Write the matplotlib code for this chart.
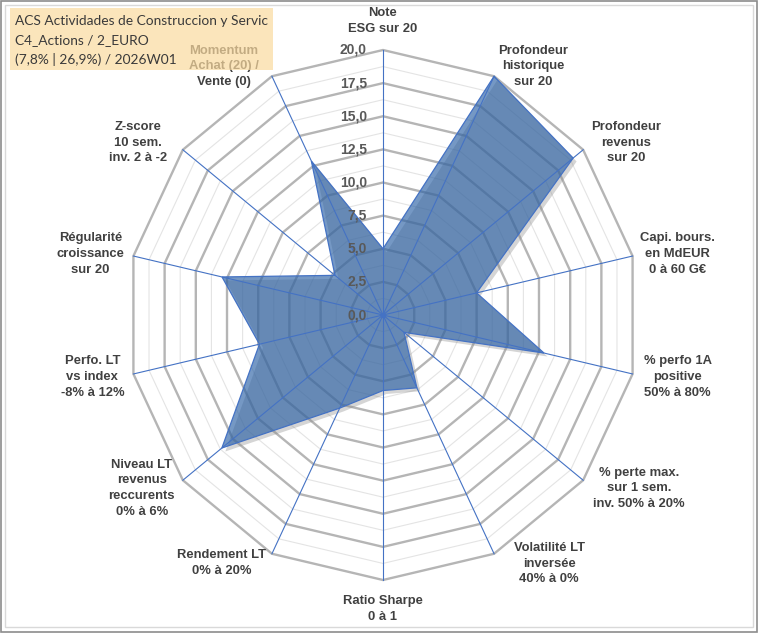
import numpy as np
import matplotlib
matplotlib.use("Agg")
import matplotlib.pyplot as plt
from matplotlib.patches import Polygon, Rectangle
import matplotlib.patheffects as pe

# ---------------- data ----------------
categories = [
    "Note\nESG sur 20",
    "Profondeur\nhistorique\nsur 20",
    "Profondeur\nrevenus\nsur 20",
    "Capi. bours.\nen MdEUR\n0 à 60 G€",
    "% perfo 1A\npositive\n50% à 80%",
    "% perte max.\nsur 1 sem.\ninv. 50% à 20%",
    "Volatilité LT\ninversée\n40% à 0%",
    "Ratio Sharpe\n0 à 1",
    "Rendement LT\n0% à 20%",
    "Niveau LT\nrevenus\nreccurents\n0% à 6%",
    "Perfo. LT\nvs index\n-8% à 12%",
    "Régularité\ncroissance\nsur 20",
    "Z-score\n10 sem.\ninv. 2 à -2",
    "Momentum\nAchat (20) /\nVente (0)",
]
values = [5.0, 20.0, 19.0, 7.5, 12.9, 2.1, 6.1, 5.7, 7.8, 16.1, 9.9, 12.9, 4.8, 12.9]
tick_values = [0.0, 2.5, 5.0, 7.5, 10.0, 12.5, 15.0, 17.5, 20.0]
tick_labels = ["0,0", "2,5", "5,0", "7,5", "10,0", "12,5", "15,0", "17,5", "20,0"]
title_lines = [
    "ACS Actividades de Construccion y Servic",
    "C4_Actions / 2_EURO",
    "(7,8% | 26,9%) / 2026W01",
]
vmax = 20.0

# ---------------- layout / style ----------------
W, H, DPI = 760, 633, 100
cx_px, cy_px = 383, 315
px_per_unit = 265 / vmax
kx = 256 / 265  # slight horizontal compression of the reference
label_offsets = [(0, -29), (39, -10), (43, -7), (45, -2), (45, 3), (56, 8), (55, 10),
                 (0, 29), (-50, 9), (-41, 8), (-41, 3), (-43, -2), (-45, -7), (-48, -10)]

fig = plt.figure(figsize=(W / DPI, H / DPI), dpi=DPI)
fig.patch.set_facecolor("white")
ax = fig.add_axes([0, 0, 1, 1])
ax.set_xlim(-cx_px / px_per_unit, (W - cx_px) / px_per_unit)
ax.set_ylim(-(H - cy_px) / px_per_unit, cy_px / px_per_unit)
ax.axis("off")

N = len(categories)
theta = np.pi / 2 - 2 * np.pi * np.arange(N) / N
ux = np.cos(theta) * kx
uy = np.sin(theta)

def ring(r):
    return np.column_stack([r * ux, r * uy])

# minor rings
for r in np.arange(1.25, vmax, 2.5):
    ax.add_patch(Polygon(ring(r), closed=True, fill=False, ec="#E4E4E4", lw=0.8, zorder=1))
# major rings
for r in tick_values[1:]:
    ax.add_patch(Polygon(ring(r), closed=True, fill=False, ec="#B5B5B5", lw=1.7, zorder=1.2))

# data polygon
vals = np.array(values)
poly = Polygon(np.column_stack([vals * ux, vals * uy]), closed=True,
               fc="#285FA4", alpha=0.64, ec="none", zorder=2)
poly.set_path_effects([pe.SimplePatchShadow(offset=(2.5, -2.5), shadow_rgbFace="#888888", alpha=0.35),
                       pe.Normal()])
ax.add_patch(poly)
ax.add_patch(Polygon(np.column_stack([vals * ux, vals * uy]), closed=True, fill=False,
                     ec="#4472C4", lw=0.9, zorder=3))

# spokes
for i in range(N):
    ax.plot([0, vmax * ux[i]], [0, vmax * uy[i]], color="#4472C4", lw=0.8, zorder=3)
ax.plot([0], [0], "o", ms=3, color="#4472C4", zorder=4)

# tick labels
for v, t in zip(tick_values, tick_labels):
    ax.annotate(t, xy=(0, v), xytext=(-16, 0), textcoords="offset pixels",
                ha="right", va="center", fontsize=10, fontweight="bold",
                color="#595959", family="Liberation Sans", zorder=5)

# category labels
for i, (lab, (dx, dy)) in enumerate(zip(categories, label_offsets)):
    ax.annotate(lab, xy=(vmax * ux[i], vmax * uy[i]), xytext=(dx, -dy),
                textcoords="offset pixels", ha="center", va="center",
                fontsize=9.4, fontweight="bold", color="#404040",
                family="Liberation Sans", linespacing=1.4, zorder=5)

# title box (semi-transparent, over the Momentum label)
fig.patches.append(Rectangle((10 / W, 1 - 70 / H), 263 / W, 62 / H, transform=fig.transFigure,
                             fc="#FADA9F", alpha=0.7, ec="none", zorder=10))
for k, line in enumerate(title_lines):
    fig.text(15 / W, 1 - (21 + 19 * k) / H, line, ha="left", va="center",
             fontsize=9.9, color="#3A3A3A", family="Lato", zorder=11)

# chart frame
fig.patches.append(Rectangle((1 / W, 1 / H), 756 / W, 631 / H, transform=fig.transFigure,
                             fill=False, ec="#8C8C8C", lw=1.2, zorder=12))
fig.patches.append(Rectangle((5 / W, 6 / H), 748 / W, 622 / H, transform=fig.transFigure,
                             fill=False, ec="#D9D9D9", lw=1.0, zorder=12))

fig.savefig("out.png", dpi=DPI)
